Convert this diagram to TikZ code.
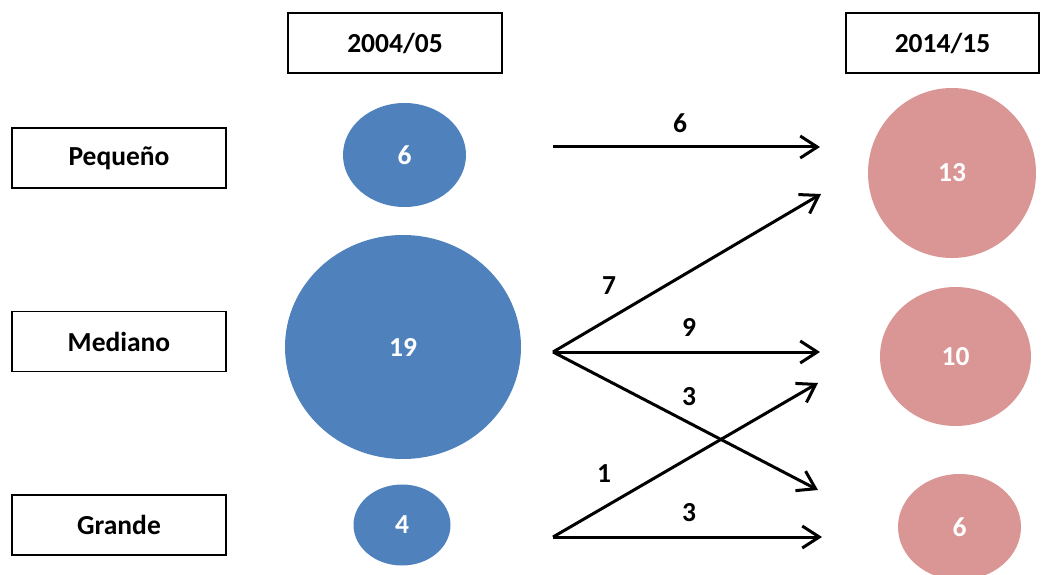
\documentclass[tikz,border=0pt]{standalone}
\usepackage{fontspec}
\setmainfont{Carlito}
\usetikzlibrary{shapes.geometric,arrows.meta}
\definecolor{cblue}{HTML}{4F81BD}
\definecolor{cpink}{HTML}{D99694}
\tikzset{
  lbl/.style={draw=black,line width=1.3pt,fill=white,inner sep=0pt,font=\fontsize{27.5}{32}\selectfont\bfseries},
  bub/.style={ellipse,draw=none,inner sep=0pt,text=white,font=\fontsize{27.5}{32}\selectfont\bfseries},
  flow/.style={line width=3pt,-{Straight Barb[length=17pt,width=22pt,line width=3pt]}},
  num/.style={font=\fontsize{27.5}{32}\selectfont\bfseries}
}
\begin{document}
\begin{tikzpicture}[x=1pt,y=-1pt]
\useasboundingbox (0,0) rectangle (1047,575);
% header boxes
\node[lbl,minimum width=214pt,minimum height=60pt] (h1) at (395,43) {2004/05};
\node[lbl,minimum width=193pt,minimum height=60pt] (h2) at (942.5,43) {2014/15};
% row labels
\node[lbl,minimum width=214pt,minimum height=60pt] (r1) at (119,158) {Pequeño};
\node[lbl,minimum width=214pt,minimum height=60pt] (r2) at (119,341.5) {Mediano};
\node[lbl,minimum width=214pt,minimum height=60pt] (r3) at (119,525) {Grande};
% blue bubbles
\node[bub,fill=cblue,minimum width=123pt,minimum height=104pt] (b1) at (404.5,155) {6};
\node[bub,fill=cblue,minimum width=236pt,minimum height=224pt] (b2) at (403,347) {19};
\node[bub,fill=cblue,minimum width=97pt,minimum height=81pt] (b3) at (402,525) {4};
% pink bubbles
\node[bub,fill=cpink,minimum width=168pt,minimum height=170pt] (p1) at (952,173) {13};
\node[bub,fill=cpink,minimum width=151pt,minimum height=139pt] (p2) at (955.5,356.5) {10};
\node[bub,fill=cpink,minimum width=123pt,minimum height=106pt] (p3) at (959.5,527) {6};
% arrow endpoints
\coordinate (s1) at (553,147);
\coordinate (s2) at (553,352);
\coordinate (s3) at (553,537);
\coordinate (e1) at (820,147);
\coordinate (e2) at (821,194);
\coordinate (e3) at (820,352);
\coordinate (e4) at (818,490);
\coordinate (e5) at (818,383);
\coordinate (e6) at (822,537);
\draw[flow] (s1) -- (e1);
\draw[flow] (s2) -- (e2);
\draw[flow] (s2) -- (e3);
\draw[flow] (s2) -- (e4);
\draw[flow] (s3) -- (e5);
\draw[flow] (s3) -- (e6);
% flow labels
\node[num] (n1) at (680,123) {6};
\node[num] (n2) at (609,286) {7};
\node[num] (n3) at (689,327) {9};
\node[num] (n4) at (689,397) {3};
\node[num] (n5) at (604,474) {1};
\node[num] (n6) at (689,513) {3};
\end{tikzpicture}
\end{document}
